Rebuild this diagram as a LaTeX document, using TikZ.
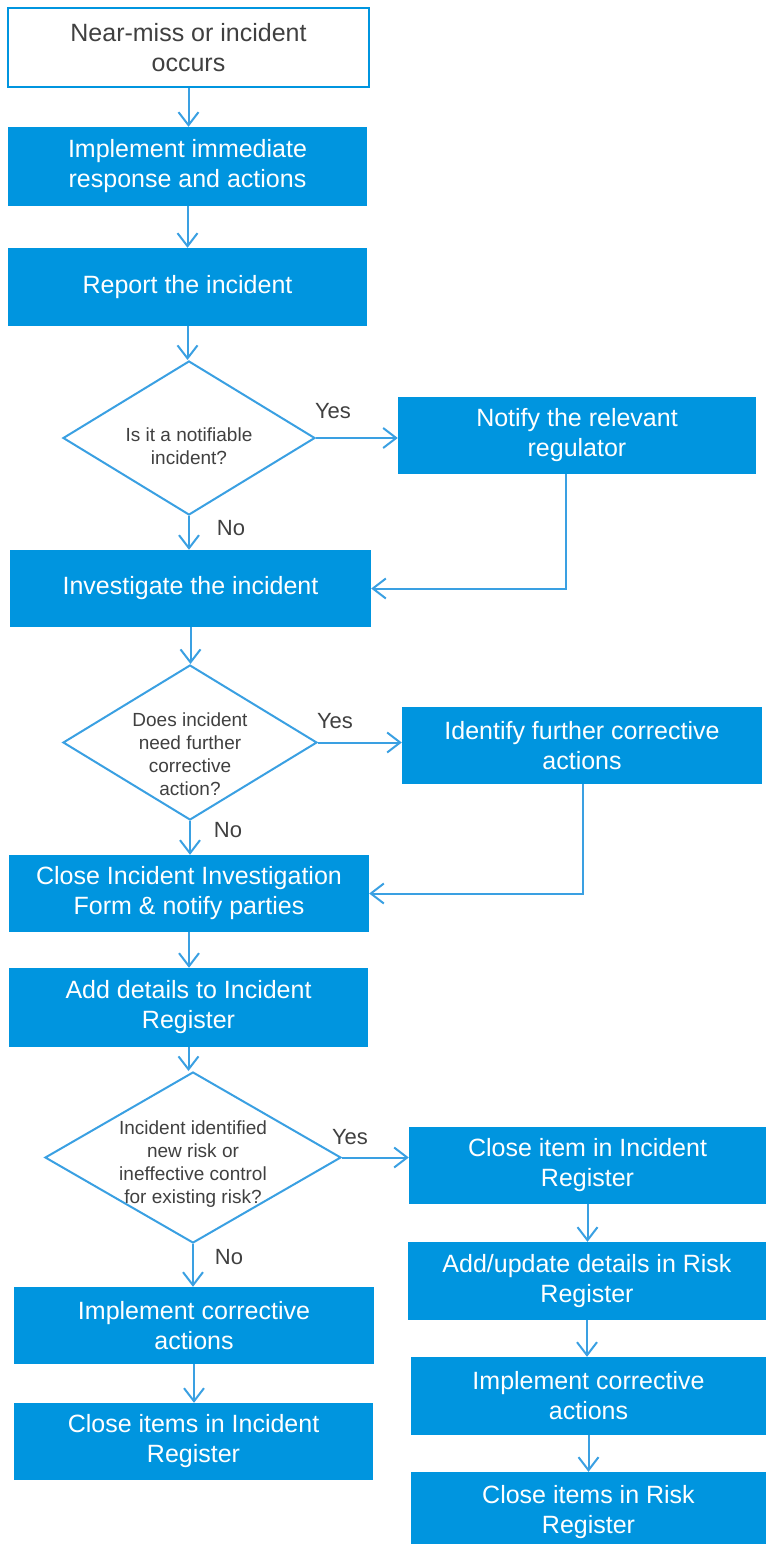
\documentclass[tikz,border=0pt]{standalone}
\usepackage{fontspec}
\setmainfont{Liberation Sans}
\usetikzlibrary{arrows.meta,shapes.geometric,calc}
\definecolor{boxblue}{HTML}{0095DF}
\definecolor{lineblue}{HTML}{3AA0E2}
\definecolor{txtgray}{HTML}{404040}
\begin{document}
\begin{tikzpicture}[x=1pt,y=-1pt,
  box/.style={rectangle, fill=boxblue, draw=none, text=white, align=center, inner sep=0pt, font=\fontsize{25}{30}\selectfont},
  startbox/.style={rectangle, fill=white, draw=boxblue, line width=1.8pt, text=txtgray, align=center, inner sep=0pt, font=\fontsize{25}{30}\selectfont},
  decision/.style={diamond, draw=lineblue, line width=2pt, fill=white, inner sep=0pt, aspect=1.6},
  dtext/.style={align=center, text=txtgray, inner sep=0pt, font=\fontsize{19}{23}\selectfont},
  lbl/.style={text=txtgray, inner sep=0pt, font=\fontsize{22}{26}\selectfont},
  arr/.style={draw=lineblue, line width=2pt, -{Straight Barb[length=13pt,width=20pt]}}
]
\useasboundingbox (0,0) rectangle (766,1544);
\clip (0,0) rectangle (766,1544);

% left column
\node[startbox, minimum width=361pt, minimum height=79pt] (b1) at (188.5,47.5) {Near-miss or incident\\occurs};
\node[box, minimum width=359pt, minimum height=79pt] (b2) at (187.5,166.5) {Implement immediate\\response and actions};
\node[box, minimum width=359pt, minimum height=78pt] (b3) at (187.5,287) {Report the incident};
\node[decision, minimum width=252pt, minimum height=154pt] (d1) at (189,438) {};
\node[dtext] (d1t) at (189,446) {Is it a notifiable\\incident?};
\node[box, minimum width=358pt, minimum height=77pt] (nr) at (577,435.5) {Notify the relevant\\regulator};
\node[box, minimum width=361pt, minimum height=77pt] (inv) at (190.5,588.5) {Investigate the incident};
\node[decision, minimum width=254pt, minimum height=155pt] (d2) at (190,742.5) {};
\node[dtext] (d2t) at (190,754) {Does incident\\need further\\corrective\\action?};
\node[box, minimum width=360pt, minimum height=77pt] (ifa) at (582,745.5) {Identify further corrective\\actions};
\node[box, minimum width=360pt, minimum height=77pt] (cl) at (189,893.5) {Close Incident Investigation\\Form \& notify parties};
\node[box, minimum width=359pt, minimum height=79pt] (ad) at (188.5,1007.5) {Add details to Incident\\Register};
\node[decision, minimum width=296pt, minimum height=171pt] (d3) at (193,1157.5) {};
\node[dtext] (d3t) at (193,1164) {Incident identified\\new risk or\\ineffective control\\for existing risk?};
\node[box, minimum width=360pt, minimum height=77pt] (l1) at (194,1325.5) {Implement corrective\\actions};
\node[box, minimum width=359pt, minimum height=77pt] (l2) at (193.5,1441.5) {Close items in Incident\\Register};

% right column
\node[box, minimum width=357pt, minimum height=77pt] (c1) at (587.5,1165.5) {Close item in Incident\\Register};
\node[box, minimum width=358pt, minimum height=78pt] (c2) at (587,1281) {Add/update details in Risk\\Register};
\node[box, minimum width=355pt, minimum height=78pt] (c3) at (588.5,1396) {Implement corrective\\actions};
\node[box, minimum width=355pt, minimum height=80pt] (c4) at (588.5,1512) {Close items in Risk\\Register};

% labels
\node[lbl] (y1) at (333,411) {Yes};
\node[lbl] (n1) at (231,528) {No};
\node[lbl] (y2) at (335,721) {Yes};
\node[lbl] (n2) at (228,830) {No};
\node[lbl] (y3) at (350,1137) {Yes};
\node[lbl] (n3) at (229,1257) {No};

% connectors
\draw[arr] (b1.south) -- (b1.south |- b2.north);
\draw[arr] (b2.south) -- (b2.south |- b3.north);
\draw[arr] (b3.south) -- (b3.south |- d1.north);
\draw[arr] (d1.south) -- (d1.south |- inv.north);
\draw[arr] (d1.east) -- (d1.east -| nr.west);
\draw[arr] ([xshift=-11pt]nr.south) |- (inv.east);
\draw[arr] (inv.south) -- (inv.south |- d2.north);
\draw[arr] (d2.south) -- (d2.south |- cl.north);
\draw[arr] (d2.east) -- (d2.east -| ifa.west);
\draw[arr] ([xshift=1pt]ifa.south) |- (cl.east);
\draw[arr] (cl.south) -- (cl.south |- ad.north);
\draw[arr] (ad.south) -- (ad.south |- d3.north);
\draw[arr] (d3.south) -- (d3.south |- l1.north);
\draw[arr] (d3.east) -- (d3.east -| c1.west);
\draw[arr] (l1.south) -- (l1.south |- l2.north);
\draw[arr] (c1.south) -- (c1.south |- c2.north);
\draw[arr] (c2.south) -- (c2.south |- c3.north);
\draw[arr] (c3.south) -- (c3.south |- c4.north);
\end{tikzpicture}
\end{document}
